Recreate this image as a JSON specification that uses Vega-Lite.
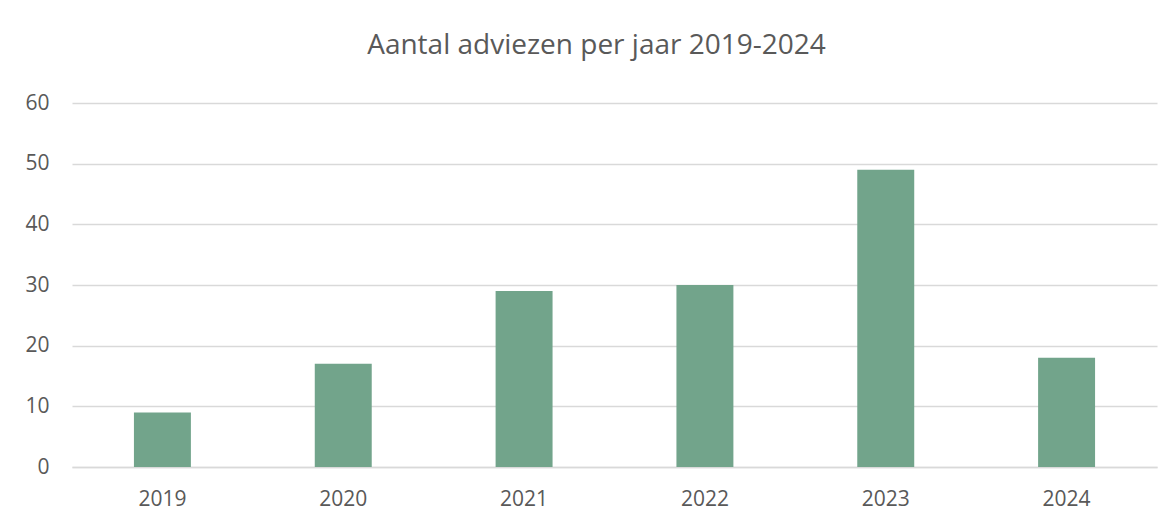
{
  "$schema": "https://vega.github.io/schema/vega-lite/v6.json",
  "width": 1085,
  "height": 364,
  "autosize": {"type": "none"},
  "padding": {"left": 72, "top": 103, "right": 19, "bottom": 57},
  "background": "white",
  "title": {
    "text": "Aantal adviezen per jaar 2019-2024",
    "anchor": "middle",
    "frame": "group",
    "dx": -18,
    "offset": 10,
    "baseline": "alphabetic",
    "font": "Open Sans",
    "fontSize": 28,
    "fontWeight": "normal",
    "color": "#595959"
  },
  "data": {
    "values": [
      {"jaar": "2019", "adviezen": 9},
      {"jaar": "2020", "adviezen": 17},
      {"jaar": "2021", "adviezen": 29},
      {"jaar": "2022", "adviezen": 30},
      {"jaar": "2023", "adviezen": 49},
      {"jaar": "2024", "adviezen": 18}
    ]
  },
  "mark": {"type": "bar", "color": "#72A48B"},
  "encoding": {
    "x": {
      "field": "jaar",
      "type": "ordinal",
      "title": null,
      "scale": {"paddingInner": 0.685, "paddingOuter": 0.3425},
      "axis": {
        "labelAngle": 0,
        "ticks": false,
        "domain": true,
        "domainColor": "#D9D9D9",
        "domainWidth": 1.5,
        "labelPadding": 21,
        "labelFont": "Open Sans",
        "labelFontSize": 21,
        "labelColor": "#595959"
      }
    },
    "y": {
      "field": "adviezen",
      "type": "quantitative",
      "title": null,
      "scale": {"domain": [0, 60]},
      "axis": {
        "values": [0, 10, 20, 30, 40, 50, 60],
        "ticks": false,
        "domain": false,
        "grid": true,
        "gridColor": "#D9D9D9",
        "gridWidth": 1.5,
        "labelPadding": 23,
        "labelFont": "Open Sans",
        "labelFontSize": 21,
        "labelColor": "#595959"
      }
    }
  },
  "config": {"view": {"stroke": null}}
}
